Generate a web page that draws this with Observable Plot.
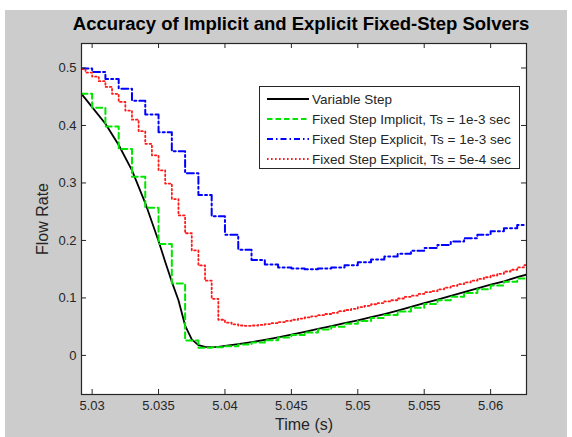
<!DOCTYPE html>
<html>
<head>
<meta charset="utf-8">
<script src="https://cdn.jsdelivr.net/npm/d3@7"></script>
<script src="https://cdn.jsdelivr.net/npm/@observablehq/plot@0.6"></script>
<style>
  html, body { margin: 0; padding: 0; background: #ffffff; }
  #fig { position: absolute; left: 5px; top: 10px; width: 562px; height: 427px; background: #cccccc; overflow: hidden; }
  #legend { position: absolute; left: 254px; top: 76px; width: 259px; height: 81px; background: #ffffff; border: 1px solid #262626;
            font-family: "Liberation Sans", Arial, sans-serif; font-size: 13.5px; color: #262626; }
  .row { position: absolute; left: 0; height: 20px; display: flex; align-items: center; }
  .row svg { margin-left: 7px; margin-right: 3px; }
</style>
</head>
<body>
<div id="fig"></div>
<script>
// ---------------- data ----------------
const title = "Accuracy of Implicit and Explicit Fixed-Step Solvers";
const xLabel = "Time (s)";
const yLabel = "Flow Rate";
const xTicks = [5.03, 5.035, 5.04, 5.045, 5.05, 5.055, 5.06];
const yTicks = [0, 0.1, 0.2, 0.3, 0.4, 0.5];
const seriesNames = [
  "Variable Step",
  "Fixed Step Implicit, Ts = 1e-3 sec",
  "Fixed Step Explicit, Ts = 1e-3 sec",
  "Fixed Step Explicit, Ts = 5e-4 sec"
];

// Variable step (smooth)
const tBlack = [5.0292, 5.0300, 5.0310, 5.0320, 5.0330, 5.0340, 5.0350, 5.0355, 5.0360, 5.0365,
  5.0370, 5.0375, 5.0380, 5.0385, 5.0390, 5.0395, 5.0400, 5.0410, 5.0420, 5.0430,
  5.0440, 5.0450, 5.0460, 5.0470, 5.0480, 5.0490, 5.0500, 5.0510, 5.0520, 5.0530,
  5.0540, 5.0550, 5.0560, 5.0570, 5.0580, 5.0590, 5.0600, 5.0610, 5.0620, 5.0627];
const vBlack = [0.455, 0.432, 0.403, 0.366, 0.322, 0.265, 0.199, 0.163, 0.128, 0.096,
  0.052, 0.028, 0.018, 0.015, 0.0145, 0.015, 0.0165, 0.0195, 0.023, 0.027,
  0.0315, 0.036, 0.041, 0.046, 0.051, 0.056, 0.061, 0.0665, 0.072, 0.078,
  0.0845, 0.091, 0.097, 0.1035, 0.110, 0.1165, 0.123, 0.129, 0.136, 0.1405];

// Fixed step, 1e-3 s (step times shared by implicit and explicit)
const tMs = [5.0292, 5.030, 5.031, 5.032, 5.033, 5.034, 5.035, 5.036, 5.037, 5.038,
  5.039, 5.040, 5.041, 5.042, 5.043, 5.044, 5.045, 5.046, 5.047, 5.048,
  5.049, 5.050, 5.051, 5.052, 5.053, 5.054, 5.055, 5.056, 5.057, 5.058,
  5.059, 5.060, 5.061, 5.062, 5.0627];
const vGreen = [0.455, 0.431, 0.398, 0.359, 0.311, 0.257, 0.194, 0.125, 0.026, 0.0135,
  0.014, 0.016, 0.019, 0.0225, 0.0265, 0.031, 0.0355, 0.040, 0.045, 0.050,
  0.055, 0.060, 0.065, 0.0705, 0.0765, 0.083, 0.0895, 0.096, 0.102, 0.1085,
  0.115, 0.1215, 0.128, 0.134, 0.134];
const vBlue = [0.499, 0.493, 0.481, 0.464, 0.443, 0.419, 0.388, 0.355, 0.317, 0.279,
  0.242, 0.210, 0.184, 0.166, 0.158, 0.153, 0.151, 0.150, 0.151, 0.153,
  0.157, 0.162, 0.167, 0.172, 0.177, 0.182, 0.187, 0.192, 0.198, 0.204,
  0.210, 0.216, 0.221, 0.227, 0.227];

// Fixed step explicit, 5e-4 s
const tRed = [5.0292, 5.0295, 5.0300, 5.0305, 5.0310, 5.0315, 5.0320, 5.0325, 5.0330, 5.0335,
  5.0340, 5.0345, 5.0350, 5.0355, 5.0360, 5.0365, 5.0370, 5.0375, 5.0380, 5.0385,
  5.0390, 5.0395, 5.0400, 5.0405, 5.0410, 5.0415, 5.0420, 5.0425, 5.0430, 5.0435,
  5.0440, 5.0445, 5.0450, 5.0455, 5.0460, 5.0465, 5.0470, 5.0475, 5.0480, 5.0485,
  5.0490, 5.0495, 5.0500, 5.0505, 5.0510, 5.0515, 5.0520, 5.0525, 5.0530, 5.0535,
  5.0540, 5.0545, 5.0550, 5.0555, 5.0560, 5.0565, 5.0570, 5.0575, 5.0580, 5.0585,
  5.0590, 5.0595, 5.0600, 5.0605, 5.0610, 5.0615, 5.0620, 5.0625, 5.0627];
const vRed = [0.498, 0.492, 0.485, 0.477, 0.467, 0.455, 0.441, 0.426, 0.410, 0.390,
  0.368, 0.348, 0.322, 0.299, 0.272, 0.2435, 0.2125, 0.1826, 0.1565, 0.130,
  0.0985, 0.062, 0.057, 0.054, 0.052, 0.0515, 0.052, 0.053, 0.0545, 0.056,
  0.058, 0.060, 0.062, 0.064, 0.066, 0.068, 0.070, 0.072, 0.074, 0.077,
  0.079, 0.081, 0.084, 0.086, 0.089, 0.091, 0.094, 0.096, 0.099, 0.102,
  0.104, 0.107, 0.110, 0.112, 0.115, 0.118, 0.121, 0.124, 0.127, 0.130,
  0.133, 0.136, 0.139, 0.142, 0.146, 0.149, 0.153, 0.157, 0.157];

const xDomain = [5.0292, 5.0627];
const yDomain = [-0.068, 0.5426];

// ---------------- chart ----------------
const toRows = (ts, vs) => ts.map((t, i) => ({t, v: vs[i]}));
const black = toRows(tBlack, vBlack);
const green = toRows(tMs, vGreen);
const blue = toRows(tMs, vBlue);
const red = toRows(tRed, vRed);

const W = 562, H = 427, mL = 76, mR = 41, mT = 33, mB = 43;
const innerW = W - mL - mR, innerH = H - mT - mB;
const axisColor = "#262626";
const tickLen = 5;
const fmt = d => String(+d.toFixed(3));

const chart = Plot.plot({
  width: W, height: H,
  marginLeft: mL, marginRight: mR, marginTop: mT, marginBottom: mB,
  style: {background: "transparent", fontFamily: "'Liberation Sans', Arial, sans-serif", fontSize: "13px", color: axisColor},
  x: {domain: xDomain, axis: null},
  y: {domain: yDomain, axis: null},
  marks: [
    Plot.frame({fill: "white", stroke: null}),
    Plot.line(black, {x: "t", y: "v", stroke: "#000000", strokeWidth: 1.8, clip: true}),
    Plot.line(green, {x: "t", y: "v", curve: "step-after", stroke: "#00e600", strokeWidth: 2, strokeDasharray: "6,3.5", clip: true}),
    Plot.line(blue, {x: "t", y: "v", curve: "step-after", stroke: "#0000ff", strokeWidth: 2, strokeDasharray: "7,3,2,3", clip: true}),
    Plot.line(red, {x: "t", y: "v", curve: "step-after", stroke: "#ff1a1a", strokeWidth: 1.8, strokeDasharray: "1.6,2.6", clip: true}),
    // inward ticks on all four sides
    Plot.tickX(xTicks, {x: d => d, insetTop: innerH - tickLen, stroke: axisColor}),
    Plot.tickX(xTicks, {x: d => d, insetBottom: innerH - tickLen, stroke: axisColor}),
    Plot.tickY(yTicks, {y: d => d, insetRight: innerW - tickLen, stroke: axisColor}),
    Plot.tickY(yTicks, {y: d => d, insetLeft: innerW - tickLen, stroke: axisColor}),
    Plot.frame({stroke: axisColor, strokeWidth: 1.2}),
    // tick labels
    Plot.axisX(xTicks, {tickSize: 0, tickPadding: 6, tickFormat: fmt, fill: axisColor, fontSize: 13, label: null}),
    Plot.axisY(yTicks, {tickSize: 0, tickPadding: 5, tickFormat: fmt, fill: axisColor, fontSize: 13, label: null}),
    // axis labels and title
    Plot.text([xLabel], {text: d => d, frameAnchor: "bottom", dy: 30, lineAnchor: "middle", fontSize: 16, fill: axisColor}),
    Plot.text([yLabel], {text: d => d, frameAnchor: "left", dx: -39, rotate: -90, lineAnchor: "middle", textAnchor: "middle", fontSize: 16, fill: axisColor}),
    Plot.text([title], {text: d => d, frameAnchor: "top", dy: -19, dx: -3, lineAnchor: "middle", fontSize: 18.5, fontWeight: "bold", fill: "#000000"})
  ]
});
const fig = document.getElementById("fig");
fig.appendChild(chart);

// ---------------- legend ----------------
const legendStyles = [
  {stroke: "#000000", dash: null},
  {stroke: "#00e600", dash: "5.5,3"},
  {stroke: "#0000ff", dash: "6,3,1.5,3"},
  {stroke: "#ff1a1a", dash: "1.6,2.4"}
];
const legend = document.createElement("div");
legend.id = "legend";
seriesNames.forEach((name, i) => {
  const row = document.createElement("div");
  row.className = "row";
  row.style.top = (2 + i * 20) + "px";
  const s = legendStyles[i];
  row.innerHTML = `<svg width="42" height="6"><line x1="0" y1="3" x2="42" y2="3" stroke="${s.stroke}" stroke-width="2" ${s.dash ? `stroke-dasharray="${s.dash}"` : ""}/></svg><span>${name}</span>`;
  legend.appendChild(row);
});
fig.appendChild(legend);
</script>
</body>
</html>
